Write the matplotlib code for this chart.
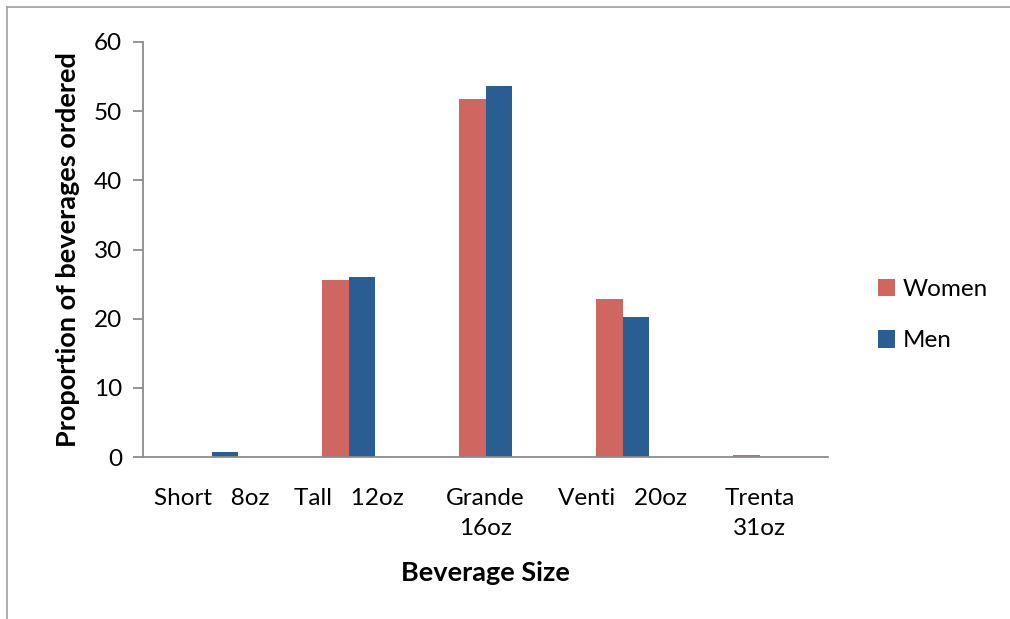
import matplotlib
matplotlib.use("Agg")
import matplotlib.pyplot as plt
from matplotlib.lines import Line2D
from matplotlib.patches import Patch
import numpy as np

plt.rcParams["font.family"] = ["Lato", "DejaVu Sans"]

categories = ["Short   8oz", "Tall   12oz", "Grande\n16oz", "Venti   20oz", "Trenta\n31oz"]
women = [0.0, 25.6, 51.8, 22.8, 0.3]
men = [0.7, 26.0, 53.6, 20.2, 0.0]
yticks = [0, 10, 20, 30, 40, 50, 60]

women_color = "#CF665F"
men_color = "#2A5D92"
axis_gray = "#8C8C8C"

fig = plt.figure(figsize=(10.10, 6.19), dpi=100)
ax = fig.add_axes([143 / 1010, 1 - 457 / 619, (828 - 143) / 1010, (457 - 42) / 619])

x = np.arange(len(categories)) + 0.5
w = 0.197
ax.bar(x - w / 2, women, width=w, color=women_color, label="Women")
ax.bar(x + w / 2, men, width=w, color=men_color, label="Men")

ax.set_xlim(0, len(categories))
ax.set_ylim(0, 60)
ax.set_yticks(yticks)
ax.set_xticks(x)
ax.set_xticklabels(categories, linespacing=1.55)

for side in ("top", "right"):
    ax.spines[side].set_visible(False)
for side in ("left", "bottom"):
    ax.spines[side].set_color(axis_gray)
    ax.spines[side].set_linewidth(1.3)

ax.tick_params(axis="y", length=7, width=1.3, color=axis_gray, labelsize=17.5, pad=8)
ax.tick_params(axis="x", length=0, labelsize=17.5, pad=22)

ax.set_ylabel("Proportion of beverages ordered", fontsize=19.5, fontweight="bold", labelpad=10)
ax.set_xlabel("Beverage Size", fontsize=19.5, fontweight="bold", labelpad=16)

handles = [Patch(facecolor=women_color), Patch(facecolor=men_color)]
fig.legend(handles, ["Women", "Men"], loc="center left",
           bbox_to_anchor=(856 / 1010, 1 - 315 / 619), frameon=False,
           fontsize=17.5, handlelength=0.72, handleheight=0.72,
           handletextpad=0.3, labelspacing=1.25)

# outer frame of the chart area (top and left edges)
fig.add_artist(Line2D([7 / 1010, 1.0], [1 - 7 / 619, 1 - 7 / 619],
                      transform=fig.transFigure, color="#A0A0A0", linewidth=1.2))
fig.add_artist(Line2D([7 / 1010, 7 / 1010], [0.0, 1 - 7 / 619],
                      transform=fig.transFigure, color="#A0A0A0", linewidth=1.2))

fig.savefig("out.png", dpi=100)
